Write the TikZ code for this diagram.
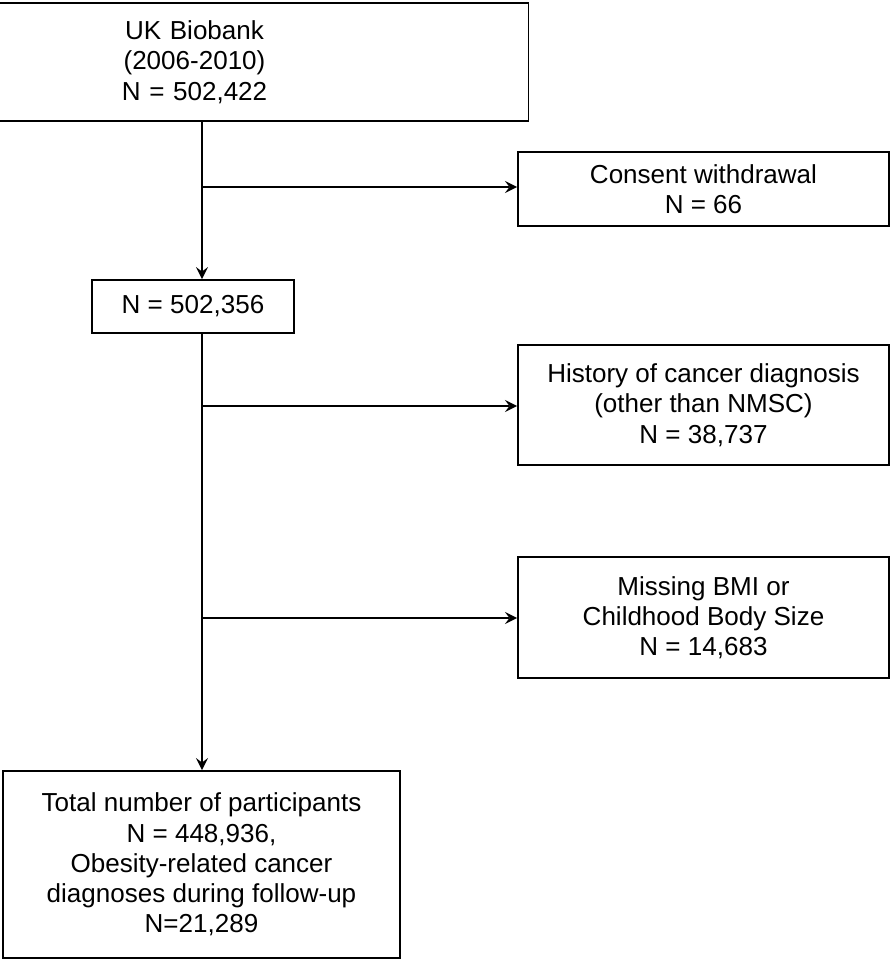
\documentclass[tikz,border=0pt]{standalone}
\usepackage{fontspec}
\setmainfont{Liberation Sans}
\usetikzlibrary{positioning}
\tikzset{
  flowbox/.style={draw=black, line width=0.5pt, align=center, inner sep=0pt,
    font=\fontsize{7.4pt}{8.6pt}\selectfont},
  flowarrow/.style={->, >=stealth, line width=0.5pt}
}
\begin{document}
\begin{tikzpicture}[x=0.01cm, y=-0.01cm]
	\useasboundingbox (0,0) rectangle (894,961);
	\node[flowbox, minimum width=199\pgflinewidth, text width=190, minimum width=1.99cm, minimum height=1.18cm] (biobank) at (194.5,62) {UK Biobank\\(2006-2010)\\N = 502,422};
	\node[flowbox, minimum width=3.71cm, minimum height=0.74cm] (consent) at (703.5,189) {Consent withdrawal\\N = 66};
	\node[flowbox, minimum width=2.02cm, minimum height=0.53cm] (second) at (193,306.5) {N = 502,356};
	\node[flowbox, minimum width=3.71cm, minimum height=1.2cm] (history) at (703.5,405) {History of cancer diagnosis\\(other than NMSC)\\N = 38,737};
	\node[flowbox, minimum width=3.71cm, minimum height=1.21cm] (missing) at (703.5,617.5) {Missing BMI or\\Childhood Body Size\\N = 14,683};
	\node[flowbox, minimum width=3.97cm, minimum height=1.87cm] (total) at (201.5,864.5) {Total number of participants\\N = 448,936,\\Obesity-related cancer\\diagnoses during follow-up\\N=21,289};
	% branch points on the main line
	\coordinate (b1) at (202,187);
	\coordinate (b2) at (202,406);
	\coordinate (b3) at (202,618);
	\draw[flowarrow] (b1 |- biobank.south) -- (b1 |- second.north);
	\draw[flowarrow] (b1) -- (consent.west |- b1);
	\draw[flowarrow] (b2 |- second.south) -- (b2 |- total.north);
	\draw[flowarrow] (b2) -- (history.west |- b2);
	\draw[flowarrow] (b3) -- (missing.west |- b3);
\end{tikzpicture}
\end{document}
